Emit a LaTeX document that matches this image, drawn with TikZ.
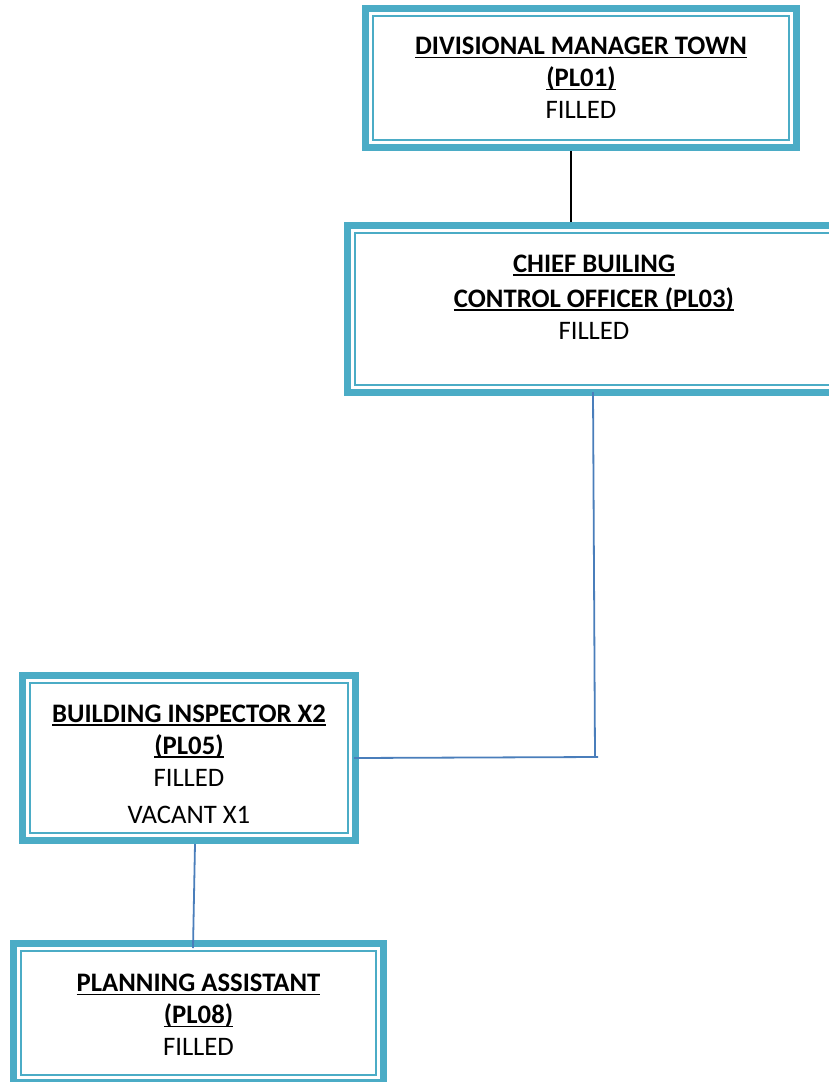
\documentclass[tikz,border=0pt]{standalone}
\usepackage{fontspec}
\setmainfont{Carlito}
\definecolor{boxteal}{HTML}{4BACC6}
\definecolor{connblue}{HTML}{4A7EBB}
\newcommand\myul[1]{\setbox0\hbox{\bfseries #1}\rlap{\rule[-3.6pt]{\wd0}{1.7pt}}\box0}
\begin{document}
\begin{tikzpicture}[x=1pt,y=-1pt,
  orgbox/.style n args={2}{draw=boxteal, line width=7pt, rectangle, fill=white,
    inner sep=0pt, minimum width=#1pt, minimum height=#2pt},
  boxtext/.style={align=center, inner sep=0pt, font=\fontsize{26.7}{32}\selectfont},
  thinline/.style={draw=boxteal, line width=2pt},
  conn/.style={draw=connblue, line width=1.8pt},
  blackconn/.style={draw=black, line width=1.5pt}]
\useasboundingbox (0,0) rectangle (829,1082);
\clip (0,0) rectangle (829,1082);
\fill[white] (0,0) rectangle (829,1082);

\node[orgbox={431}{139}] (b1) at (581,78) {};
\node[orgbox={493}{167}] (b2) at (594,309) {};
\node[orgbox={333}{165}] (b3) at (189,758) {};
\node[orgbox={370}{139}] (b4) at (198.5,1013) {};

\foreach \b in {b1,b2,b3,b4}
  \draw[thinline] ([shift={(11pt,-11pt)}]\b.north west) rectangle ([shift={(-11pt,11pt)}]\b.south east);

\node[boxtext] (t1) at (581,78)
  {\myul{DIVISIONAL MANAGER TOWN}\\ \myul{(PL01)}\\ FILLED};
\node[boxtext] (t2) at (594,297)
  {\myul{CHIEF BUILING}\\[3pt] \myul{CONTROL OFFICER (PL03)}\\ FILLED};
\node[boxtext] (t3) at (189,764)
  {\myul{BUILDING INSPECTOR X2}\\ \myul{(PL05)}\\ FILLED\\[5pt] VACANT X1};
\node[boxtext] (t4) at (198.5,1015)
  {\myul{PLANNING ASSISTANT}\\ \myul{(PL08)}\\ FILLED};

\coordinate (x1) at (571,0);
\coordinate (x2) at (593,0);
\coordinate (c2) at (595,756);
\coordinate (c3) at (598,757);
\coordinate (x3) at (195,0);
\coordinate (x4) at (193,0);

\draw[blackconn] (b1.south -| x1) -- (b2.north -| x1);
\draw[conn] ([yshift=4pt]b2.south -| x2) -- (c2);
\draw[conn] (c3) -- ([xshift=-5pt]b3.east);
\draw[conn] (b3.south -| x3) -- ([yshift=-8pt]b4.north -| x4);
\end{tikzpicture}
\end{document}
